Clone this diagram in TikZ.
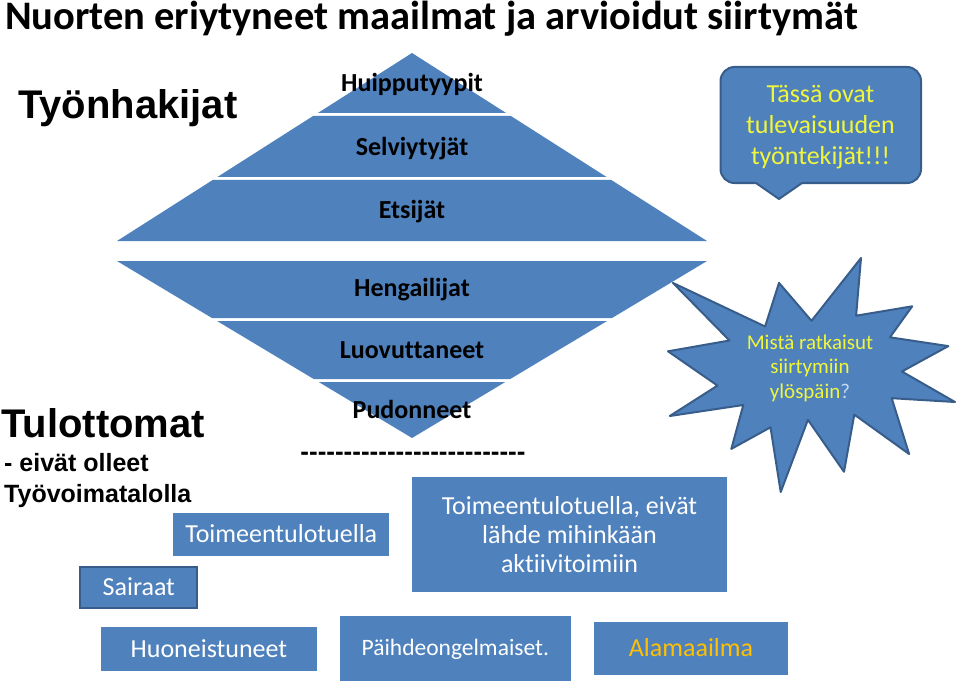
\documentclass[tikz,border=0pt]{standalone}
\usepackage{fontspec}
\setmainfont{Carlito}[Ligatures={NoCommon}]
\newfontfamily\arialfont{Liberation Sans}
\definecolor{boxblue}{RGB}{79,129,189}
\definecolor{darkborder}{RGB}{56,93,138}
\definecolor{yellowtext}{RGB}{240,246,60}
\definecolor{qblue}{RGB}{198,217,241}
\definecolor{orangetext}{RGB}{255,192,0}
\newcommand\hy{\mbox{-}}
\begin{document}
\begin{tikzpicture}[x=1pt,y=-1pt,
  band/.style={fill=boxblue},
  bandlabel/.style={font=\fontsize{26}{30}\selectfont\bfseries, text=black, inner sep=0pt},
  bluebox/.style={fill=boxblue, text=white, font=\fontsize{26}{29}\selectfont, align=center, inner sep=0pt},
  oneline/.style={text height=16.7pt, text depth=0pt},
  headtext/.style={font=\arialfont\fontsize{40}{46}\selectfont\bfseries, inner sep=0pt, anchor=base west},
  subtext/.style={font=\arialfont\fontsize{25}{29}\selectfont\bfseries, inner sep=0pt, anchor=base west},
  bubble/.style={fill=boxblue, draw=darkborder, line width=2pt, line join=round},
]
\useasboundingbox (0,0) rectangle (960,687);

% title
\node[font=\fontsize{40.5}{46}\selectfont\bfseries, inner sep=0pt, anchor=base west] (title) at (5,30) {Nuorten eriytyneet maailmat ja arvioidut siirtymät};

% upper pyramid
\fill[band] (412,53) -- (506.1,113) -- (317.9,113) -- cycle;
\fill[band] (313.1,116) -- (510.9,116) -- (606.6,177) -- (217.4,177) -- cycle;
\fill[band] (212.7,180) -- (611.3,180) -- (707,241) -- (117,241) -- cycle;
% lower pyramid
\fill[band] (117,261) -- (707,261) -- (612,318) -- (212,318) -- cycle;
\fill[band] (217,321) -- (607,321) -- (510.3,379) -- (313.7,379) -- cycle;
\fill[band] (318.7,382) -- (505.3,382) -- (412,438) -- cycle;

\node[bandlabel, oneline] (huip) at (412,83) {Huipputyypit};
\node[bandlabel, oneline] (selv) at (412,147) {Selviytyjät};
\node[bandlabel, oneline] (etsi) at (412,210) {Etsijät};
\node[bandlabel, oneline] (heng) at (412,288) {Hengailijat};
\node[bandlabel, oneline] (luov) at (412,350) {Luovuttaneet};
\node[bandlabel, oneline] (pudo) at (412,410) {Pudonneet};

% left headings
\node[headtext] (tyon) at (18,119) {Työnhakijat};
\node[headtext] (tulo) at (1,437) {Tulottomat};
\node[subtext] (eiva) at (4,471) {- eivät olleet};
\node[subtext] (tyov) at (4,502) {Työvoimatalolla};

% dashes
\node[font=\arialfont\fontsize{26}{30}\selectfont\bfseries, inner sep=0pt] (dash) at (413,456)
  {\hy\hy\hy\hy\hy\hy\hy\hy\hy\hy\hy\hy\hy\hy\hy\hy\hy\hy\hy\hy\hy\hy\hy\hy\hy\hy};

% callout
\draw[bubble, rounded corners=14pt] (720.5,67) rectangle (921,183);
\fill[boxblue] (754,180.5) -- (779,199) -- (804,180.5) -- cycle;
\draw[darkborder, line width=2pt, line join=round] (756,183) -- (779,199) -- (802,183);
\node[font=\fontsize{26}{31}\selectfont, text=yellowtext, align=center, inner sep=0pt] (call) at (820.5,127)
  {Tässä ovat\\tulevaisuuden\\työntekijät!!!};

% explosion
\draw[bubble] (811.5,320.8) -- (861.0,258.0) -- (856.1,315.7) -- (912.2,306.3) -- (889.9,337.3)
  -- (948.3,346.1) -- (901.9,371.5) -- (955.0,402.0) -- (891.7,398.2) -- (909.1,454.0)
  -- (854.3,414.6) -- (844.0,471.8) -- (807.9,419.8) -- (780.7,492.0) -- (770.5,427.3)
  -- (731.3,448.9) -- (743.3,405.0) -- (669.8,416.0) -- (717.5,385.6) -- (668.0,351.3)
  -- (729.5,340.5) -- (672.9,282.9) -- (765.1,326.5) -- (779.0,282.9) -- cycle;
\node[font=\fontsize{21}{24.5}\selectfont, text=yellowtext, align=center, inner sep=0pt] (star) at (810,368)
  {Mistä ratkaisut\\siirtymiin\\ylöspäin\textcolor{qblue}{?}};

% boxes
\node[bluebox, oneline, minimum width=216pt, minimum height=43.3pt] (toim) at (281.3,534.4) {Toimeentulotuella};
\node[bluebox, oneline, draw=darkborder, line width=2.2pt, minimum width=117pt, minimum height=41.5pt] (sair) at (138.8,587.4) {Sairaat};
\node[bluebox, minimum width=315.6pt, minimum height=115.6pt] (eivat) at (569.5,534.5)
  {Toimeentulotuella, eivät\\lähde mihinkään\\aktiivitoimiin};
\node[bluebox, oneline, minimum width=215.7pt, minimum height=44pt] (huon) at (208.9,648.7) {Huoneistuneet};
\node[bluebox, font=\fontsize{23.5}{28}\selectfont, text height=15.1pt, text depth=0pt, minimum width=230.7pt, minimum height=64.7pt] (paih) at (455.3,648.4) {Päihdeongelmaiset.};
\node[bluebox, oneline, text=orangetext, minimum width=194pt, minimum height=53.3pt] (alam) at (691,648.4) {Alamaailma};
\end{tikzpicture}
\end{document}
